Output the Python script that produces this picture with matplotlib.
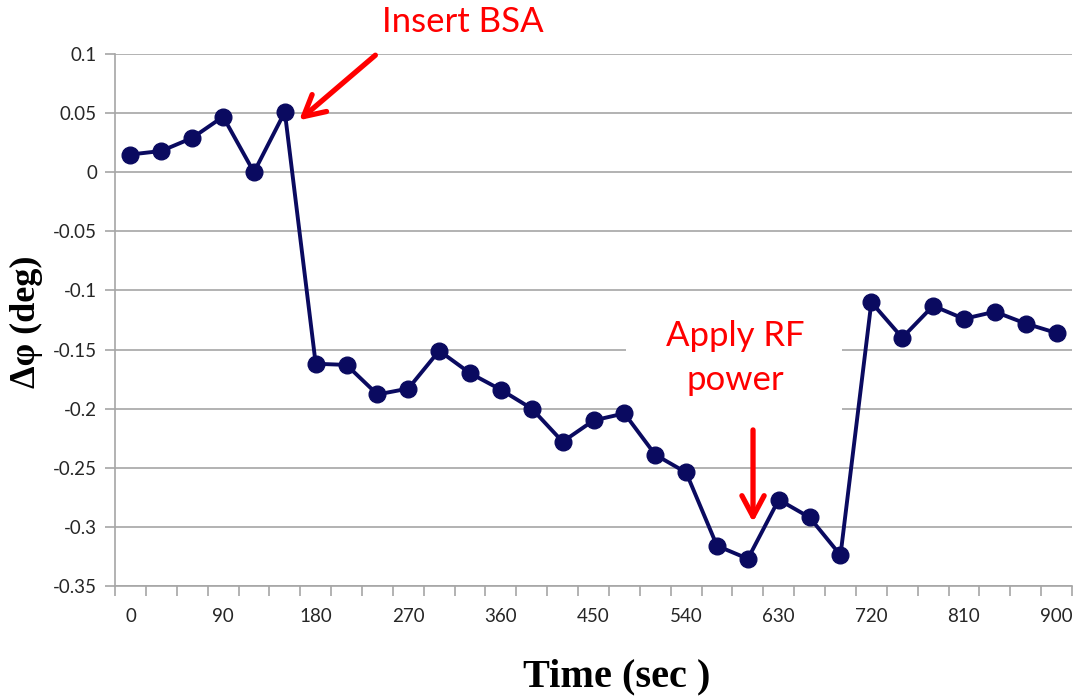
import matplotlib.pyplot as plt
from matplotlib.patches import Rectangle

# данные
t = [0, 30, 60, 90, 120, 150, 180, 210, 240, 270, 300, 330, 360, 390, 420, 450,
     480, 510, 540, 570, 600, 630, 660, 690, 720, 750, 780, 810, 840, 870, 900]
dphi = [0.015, 0.018, 0.029, 0.047, 0.0, 0.051, -0.162, -0.163, -0.188, -0.183,
        -0.151, -0.170, -0.184, -0.200, -0.228, -0.210, -0.204, -0.239, -0.254,
        -0.316, -0.327, -0.277, -0.292, -0.324, -0.110, -0.140, -0.113, -0.124,
        -0.118, -0.128, -0.136]
xlabels = [0, 90, 180, 270, 360, 450, 540, 630, 720, 810, 900]
ylabels = [0.1, 0.05, 0, -0.05, -0.1, -0.15, -0.2, -0.25, -0.3, -0.35]

grid_c = '#a6a6a6'
navy = '#0a0a60'

fig = plt.figure(figsize=(10.76, 6.98), dpi=100)
ax = fig.add_axes([0.1069, 0.1605, 0.8894, 0.7621])

ax.plot(t, dphi, '-o', color=navy, lw=2.8, markersize=12, zorder=4)

ax.set_xlim(-15, 915)
ax.set_ylim(-0.35, 0.1)

# оси
ax.set_yticks(ylabels)
ax.set_yticklabels([f'{v:g}' for v in ylabels])
ax.set_xticks(xlabels)
ax.set_xticklabels([str(v) for v in xlabels])
ax.set_xticks([x - 15 for x in t] + [915], minor=True)
ax.tick_params(axis='x', which='major', length=0, pad=16)
ax.tick_params(axis='x', which='minor', length=7, color=grid_c, width=1.2)
ax.tick_params(axis='y', length=7, color=grid_c, width=1.2, pad=6)
for lbl in ax.get_xticklabels() + ax.get_yticklabels():
    lbl.set_fontfamily('Lato')
    lbl.set_fontsize(13.5)
    lbl.set_color('#262626')

ax.grid(axis='y', color=grid_c, lw=1.2, zorder=0)
ax.set_axisbelow(True)
for s in ['top', 'right']:
    ax.spines[s].set_visible(False)
for s in ['left', 'bottom']:
    ax.spines[s].set_color(grid_c)
    ax.spines[s].set_linewidth(1.2)

# белая подложка под подписью
ax.add_patch(Rectangle((482, -0.212), 209, 0.092, facecolor='white',
                       edgecolor='none', zorder=2))

# подписи
arrow = dict(arrowstyle='->,head_length=1.5,head_width=0.8',
             color='red', lw=3.8, shrinkA=0, shrinkB=0)
ax.annotate('', xy=(164, 0.044), xytext=(238, 0.099),
            arrowprops=arrow, annotation_clip=False, zorder=5)
ax.text(323, 0.127, 'Insert BSA', color='red', fontsize=25, family='Lato',
        ha='center', va='center', clip_on=False)
ax.annotate('', xy=(605, -0.296), xytext=(605, -0.218),
            arrowprops=arrow, zorder=5)
ax.text(588, -0.157, 'Apply RF\npower', color='red', fontsize=25, family='Lato',
        ha='center', va='center', linespacing=1.45, zorder=5)

fig.text(0.573, 0.004, 'Time (sec )', fontsize=29, fontweight='bold',
         family='Liberation Serif', ha='center', va='bottom')
fig.text(0.025, 0.539, 'Δφ (deg)', fontsize=26, fontweight='bold',
         family='Liberation Serif', ha='center', va='center', rotation=90)

fig.savefig('out.png', dpi=100)
